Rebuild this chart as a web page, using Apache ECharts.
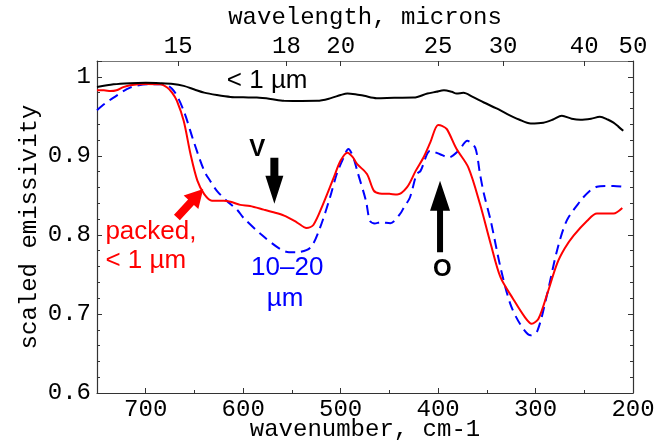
<!DOCTYPE html>
<html>
<head>
<meta charset="utf-8">
<script src="https://cdn.jsdelivr.net/npm/echarts@6/dist/echarts.min.js"></script>
<style>
  html, body { margin: 0; padding: 0; background: #fff; }
  #chart { width: 667px; height: 445px; }
</style>
</head>
<body>
<div id="chart"></div>
<script>
// wavenumber (cm-1) and scaled emissivity
const wnFine = [750, 733, 716, 700, 685, 672, 661, 650, 640, 627, 613, 600, 586, 572, 558, 540, 524, 510, 500, 493, 485, 476, 463, 445, 425, 411, 402, 394, 386, 381, 374, 365, 353, 340, 329, 317, 305, 292, 282, 273, 263, 254, 243, 234, 226, 220, 215, 210];
const emFine = [0.987, 0.9905, 0.992, 0.9925, 0.992, 0.991, 0.9885, 0.984, 0.980, 0.977, 0.9746, 0.974, 0.9737, 0.972, 0.9696, 0.9695, 0.9696, 0.973, 0.977, 0.979, 0.978, 0.976, 0.973, 0.9735, 0.9737, 0.9788, 0.981, 0.983, 0.981, 0.9788, 0.9797, 0.975, 0.9675, 0.960, 0.9528, 0.946, 0.941, 0.942, 0.946, 0.9506, 0.947, 0.9456, 0.947, 0.9494, 0.946, 0.942, 0.937, 0.9317];

const wnPacked = [750, 743, 736, 730, 723, 716, 700, 685, 678, 673, 668, 661, 654, 647, 640, 632, 627, 620, 613, 603, 593, 579, 570, 558, 545, 535, 528, 518, 507, 500, 493, 488, 483, 473, 466, 460, 450, 442, 432, 423, 415, 408, 400, 396, 391, 381, 369, 357, 346, 336, 323, 311, 304, 297, 288, 278, 270, 261, 247, 237, 228, 220, 211];
const emPacked = [0.983, 0.983, 0.982, 0.983, 0.987, 0.9894, 0.991, 0.9907, 0.9864, 0.980, 0.9696, 0.944, 0.902, 0.8686, 0.8517, 0.8433, 0.8433, 0.8433, 0.842, 0.838, 0.8365, 0.832, 0.829, 0.8244, 0.816, 0.8088, 0.8125, 0.839, 0.8727, 0.894, 0.904, 0.899, 0.8896, 0.877, 0.856, 0.8525, 0.852, 0.851, 0.860, 0.881, 0.898, 0.917, 0.939, 0.938, 0.9338, 0.9086, 0.8854, 0.839, 0.7886, 0.7465, 0.719, 0.696, 0.6876, 0.694, 0.7255, 0.7634, 0.783, 0.799, 0.818, 0.827, 0.827, 0.827, 0.834];

const wnCoarse = [750, 742, 733, 716, 698, 681, 671, 661, 651, 640, 634, 627, 617, 606, 600, 582, 562, 553, 545, 531, 521, 511, 504, 498, 492, 487, 483, 474, 470, 465, 459, 449, 439, 435, 429, 422, 418, 408, 398, 389, 379, 370, 362, 357, 353, 346, 336, 326, 316, 305, 298, 288, 278, 268, 254, 245, 237, 228, 220, 211];
const emCoarse = [0.9578, 0.966, 0.9737, 0.9864, 0.9906, 0.9906, 0.982, 0.957, 0.919, 0.881, 0.8686, 0.8557, 0.8433, 0.8316, 0.822, 0.801, 0.782, 0.778, 0.778, 0.784, 0.8096, 0.847, 0.877, 0.895, 0.9086, 0.898, 0.881, 0.843, 0.818, 0.8145, 0.816, 0.8147, 0.8265, 0.835, 0.847, 0.877, 0.881, 0.9065, 0.902, 0.898, 0.9065, 0.919, 0.9106, 0.877, 0.852, 0.818, 0.759, 0.713, 0.6876, 0.6729, 0.679, 0.7255, 0.780, 0.818, 0.843, 0.855, 0.861, 0.862, 0.862, 0.861];

// top axis tick labels (wavelength, microns)
const wavelengthTicks = [15, 18, 20, 25, 30, 40, 50];

const zip = (xs, ys) => xs.map((x, i) => [x, ys[i]]);

const chart = echarts.init(document.getElementById('chart'), null, { renderer: 'canvas' });

const mono = 'Liberation Mono';
const sans = 'Liberation Sans';
const tickCommon = { inside: true, length: 5, lineStyle: { color: '#333', width: 1 } };
const minorCommon = { show: true, length: 3, lineStyle: { color: '#333', width: 1 } };

const option = {
  animation: false,
  backgroundColor: '#fff',
  grid: { left: 97, right: 34, top: 61, bottom: 52, containLabel: false, outerBoundsMode: 'none' },
  xAxis: [
    {
      type: 'value', inverse: true, min: 200, max: 750, interval: 100,
      position: 'bottom',
      name: 'wavenumber, cm-1', nameLocation: 'middle', nameGap: 25, nameMoveOverlap: false,
      nameTextStyle: { fontFamily: mono, fontSize: 24, color: '#000' },
      axisLine: { lineStyle: { color: '#333', width: 1.2 } },
      axisTick: tickCommon,
      minorTick: Object.assign({ splitNumber: 2 }, minorCommon),
      axisLabel: { fontFamily: mono, fontSize: 24, color: '#000', margin: 5, showMaxLabel: false },
      splitLine: { show: false }
    },
    {
      type: 'value', inverse: true, min: 200, max: 750,
      position: 'top',
      name: 'wavelength, microns', nameLocation: 'middle', nameGap: 31, nameMoveOverlap: false,
      nameTextStyle: { fontFamily: mono, fontSize: 24, color: '#000' },
      axisLine: { lineStyle: { color: '#777', width: 1.2 } },
      axisTick: Object.assign({ customValues: wavelengthTicks.map(l => 10000 / l) }, tickCommon),
      axisLabel: {
        customValues: wavelengthTicks.map(l => 10000 / l),
        formatter: v => String(Math.round(10000 / v)),
        fontFamily: mono, fontSize: 24, color: '#000', margin: 2
      },
      splitLine: { show: false }
    }
  ],
  yAxis: [
    {
      type: 'value', min: 0.6, max: 1.02, interval: 0.1,
      name: 'scaled emissivity', nameLocation: 'middle', nameGap: 55, nameMoveOverlap: false,
      nameTextStyle: { fontFamily: mono, fontSize: 24, color: '#000' },
      axisLine: { show: true, lineStyle: { color: '#333', width: 1.2 } },
      axisTick: tickCommon,
      minorTick: Object.assign({ splitNumber: 5 }, minorCommon),
      axisLabel: { fontFamily: mono, fontSize: 24, color: '#000', margin: 6, showMaxLabel: false },
      splitLine: { show: false }
    },
    {
      type: 'value', min: 0.6, max: 1.02, interval: 0.1, position: 'right',
      axisLine: { show: true, lineStyle: { color: '#333', width: 1.2 } },
      axisTick: tickCommon,
      minorTick: Object.assign({ splitNumber: 5 }, minorCommon),
      axisLabel: { show: false },
      splitLine: { show: false }
    }
  ],
  series: [
    {
      name: '10-20 um', type: 'line', data: zip(wnCoarse, emCoarse),
      showSymbol: false, smooth: 0.3,
      lineStyle: { color: '#0000ff', width: 2, type: [10, 6] }
    },
    {
      name: 'packed', type: 'line', data: zip(wnPacked, emPacked),
      showSymbol: false, smooth: 0.3,
      lineStyle: { color: '#ff0000', width: 2 }
    },
    {
      name: '< 1 um', type: 'line', data: zip(wnFine, emFine),
      showSymbol: false, smooth: 0.3,
      lineStyle: { color: '#000000', width: 2 }
    }
  ]
};

chart.setOption(option);

// annotations, placed in data coordinates
const px = p => chart.convertToPixel({ xAxisIndex: 0, yAxisIndex: 0 }, p);

function arrowShape(tail, tip, sw, hw, hl) {
  const a = px(tail), b = px(tip);
  const dx = b[0] - a[0], dy = b[1] - a[1];
  const len = Math.hypot(dx, dy);
  const ux = dx / len, uy = dy / len;
  const nx = -uy, ny = ux;
  const bx = b[0] - ux * hl, by = b[1] - uy * hl;
  return [
    [a[0] + nx * sw / 2, a[1] + ny * sw / 2],
    [bx + nx * sw / 2, by + ny * sw / 2],
    [bx + nx * hw / 2, by + ny * hw / 2],
    [b[0], b[1]],
    [bx - nx * hw / 2, by - ny * hw / 2],
    [bx - nx * sw / 2, by - ny * sw / 2],
    [a[0] - nx * sw / 2, a[1] - ny * sw / 2]
  ];
}

function label(text, at, color, opts) {
  const p = px(at);
  return {
    type: 'text', x: p[0], y: p[1], z: 100,
    style: Object.assign({
      text: text, fill: color, font: '26px "' + sans + '"',
      align: 'center', verticalAlign: 'middle'
    }, opts || {})
  };
}

chart.setOption({
  graphic: [
    { type: 'polygon', z: 100, shape: { points: arrowShape([568, 0.8975], [568, 0.8393], 8, 18, 28) }, style: { fill: '#000' } },
    { type: 'polygon', z: 100, shape: { points: arrowShape([398, 0.778], [398, 0.8686], 6, 20, 30) }, style: { fill: '#000' } },
    { type: 'polygon', z: 100, shape: { points: arrowShape([668, 0.822], [641, 0.858], 8, 20, 18) }, style: { fill: '#ff0000' } },
    label('< 1 µm', [575.4, 0.9948], '#000'),
    label('V', [585.6, 0.9077], '#000', { font: 'bold 24px "' + sans + '"' }),
    label('O', [395.6, 0.756], '#000', { font: 'bold 24px "' + sans + '"' }),
    label('packed,', [741.4, 0.804], '#ff0000', { align: 'left' }),
    label('< 1 µm', [741.4, 0.7675], '#ff0000', { align: 'left' }),
    label('10–20', [554.8, 0.7588], '#0000ff'),
    label('µm', [557, 0.7196], '#0000ff')
  ]
});
</script>
</body>
</html>
